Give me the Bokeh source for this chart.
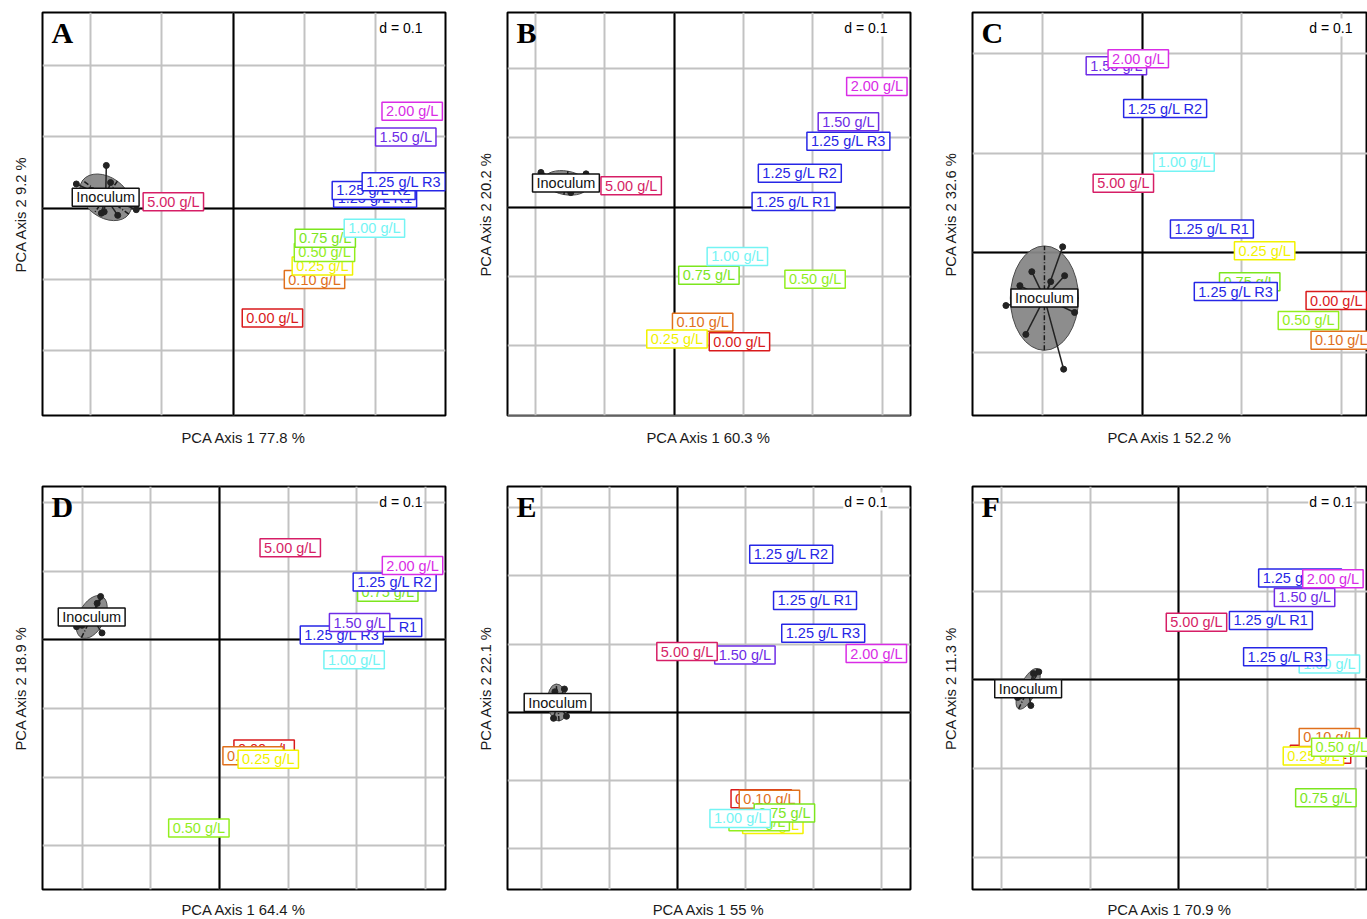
import numpy as np
from bokeh.plotting import figure
from bokeh.layouts import gridplot
from bokeh.models import ColumnDataSource, Grid, FixedTicker, SingleIntervalTicker, Range1d
from bokeh.core.properties import value
from bokeh.embed import file_html
from bokeh.resources import INLINE

# ---------------- data ----------------
labels = ["0.00 g/L", "0.10 g/L", "0.25 g/L", "0.50 g/L", "0.75 g/L", "1.00 g/L",
          "1.25 g/L R1", "1.25 g/L R2", "1.25 g/L R3", "1.50 g/L", "2.00 g/L", "5.00 g/L"]

letters = ["A", "B", "C", "D", "E", "F"]
x_titles = ["PCA Axis 1 77.8 %", "PCA Axis 1 60.3 %", "PCA Axis 1 52.2 %",
            "PCA Axis 1 64.4 %", "PCA Axis 1 55 %", "PCA Axis 1 70.9 %"]
y_titles = ["PCA Axis 2 9.2 %", "PCA Axis 2 20.2 %", "PCA Axis 2 32.6 %",
            "PCA Axis 2 18.9 %", "PCA Axis 2 22.1 %", "PCA Axis 2 11.3 %"]

A_pc1 = [0.055, 0.114, 0.125, 0.128, 0.129, 0.198, 0.199, 0.197, 0.239, 0.242, 0.251, -0.084]
A_pc2 = [-0.154, -0.100, -0.081, -0.062, -0.042, -0.028, 0.014, 0.025, 0.037, 0.100, 0.136, 0.009]
A_inoc_pc1 = [-0.178, -0.220, -0.181, -0.162, -0.185, -0.136, -0.172, -0.200, -0.205, -0.150]
A_inoc_pc2 = [0.060, 0.034, -0.005, -0.010, -0.007, -0.002, 0.036, 0.025, 0.010, 0.012]

B_pc1 = [0.094, 0.041, 0.004, 0.203, 0.050, 0.091, 0.172, 0.181, 0.251, 0.251, 0.292, -0.062]
B_pc2 = [-0.194, -0.166, -0.190, -0.104, -0.098, -0.071, 0.008, 0.049, 0.095, 0.123, 0.174, 0.031]
B_inoc_pc1 = [-0.192, -0.149, -0.127, -0.160, -0.152]
B_inoc_pc2 = [0.050, 0.021, 0.048, 0.030, 0.026]

C_pc1 = [0.195, 0.200, 0.123, 0.167, 0.108, 0.042, 0.070, 0.023, 0.094, -0.026, -0.004, -0.019]
C_pc2 = [-0.048, -0.088, 0.002, -0.068, -0.029, 0.091, 0.024, 0.145, -0.039, 0.188, 0.195, 0.070]
C_inoc_pc1 = [-0.080, -0.111, -0.092, -0.078, -0.123, -0.137, -0.068, -0.117, -0.079]
C_inoc_pc2 = [0.006, -0.019, -0.029, -0.023, -0.033, -0.053, -0.060, -0.082, -0.117]

D_pc1 = [0.065, 0.049, 0.071, -0.030, 0.245, 0.196, 0.234, 0.255, 0.178, 0.204, 0.281, 0.103]
D_pc2 = [-0.159, -0.169, -0.174, -0.274, 0.069, -0.029, 0.018, 0.084, 0.007, 0.025, 0.108, 0.134]
D_inoc_pc1 = [-0.173, -0.208, -0.171, -0.200, -0.178]
D_inoc_pc2 = [0.063, 0.019, 0.010, 0.021, 0.053]

E_pc1 = [0.123, 0.135, 0.140, 0.120, 0.157, 0.092, 0.202, 0.167, 0.214, 0.099, 0.292, 0.014]
E_pc2 = [-0.127, -0.128, -0.165, -0.161, -0.148, -0.156, 0.164, 0.232, 0.116, 0.084, 0.086, 0.089]
E_inoc_pc1 = [-0.166, -0.180, -0.189, -0.182, -0.163]
E_inoc_pc2 = [0.034, 0.030, 0.022, -0.009, -0.006]

F_pc1 = [0.160, 0.170, 0.152, 0.184, 0.166, 0.170, 0.104, 0.137, 0.120, 0.142, 0.174, 0.020]
F_pc2 = [-0.084, -0.065, -0.086, -0.076, -0.133, 0.018, 0.067, 0.115, 0.026, 0.093, 0.114, 0.065]
F_inoc_pc1 = [-0.158, -0.182, -0.167, -0.179, -0.164]
F_inoc_pc2 = [0.009, -0.020, -0.029, -0.018, 0.007]

# ---------------- style ----------------
label_colors = ["#D91A1C", "#E0701C", "#F2F200", "#92EE1E", "#7CE61E", "#74F4F4",
                "#2626E6", "#2626E6", "#2626E6", "#6E2CE6", "#D92CE6", "#D61E66"]
FONT = "Liberation Sans"
GRID_COL = "#c2c2c2"

# per panel view: (x_start, y_end, px per unit, frame width)
views = [(-0.2675, 0.2745, 713, 403), (-0.2402, 0.2805, 694, 403), (-0.1706, 0.2415, 995, 395),
         (-0.2576, 0.2231, 687, 403), (-0.2496, 0.3314, 681, 403), (-0.2328, 0.2182, 886, 395)]


def make_panel(i, pc1, pc2, ipc1, ipc2, row, col):
    x_start, y_end, sc, fw = views[i]
    fh = 403
    x_end = x_start + fw / sc
    y_start = y_end - fh / sc
    p = figure(frame_width=fw, frame_height=fh,
               x_range=Range1d(x_start, x_end), y_range=Range1d(y_start, y_end),
               min_border_left=(42 if col == 0 else 34),
               min_border_right=(28 if fw == 403 else 0),
               min_border_top=(12 if row == 0 else 4),
               min_border_bottom=(67 if row == 0 else 28),
               output_backend="svg", toolbar_location=None, tools="")
    p.outline_line_color = "black"
    p.outline_line_width = 2
    p.background_fill_color = "white"
    p.border_fill_color = "white"

    for ax in (p.xaxis[0], p.yaxis[0]):
        ax.ticker = FixedTicker(ticks=[])
        ax.major_label_standoff = 0
        ax.major_tick_line_color = None
        ax.minor_tick_line_color = None
        ax.major_tick_out = 0
        ax.major_tick_in = 0
        ax.axis_line_color = None
        ax.axis_label_text_font = FONT
        ax.axis_label_text_font_size = "14.8px"
        ax.axis_label_text_font_style = "normal"
        ax.axis_label_text_color = "#1a1a1a"
    p.xaxis.axis_label = x_titles[i]
    p.yaxis.axis_label = y_titles[i]
    p.xaxis.axis_label_standoff = 14 if row == 0 else 12
    p.yaxis.axis_label_standoff = 14

    for g in (p.xgrid[0], p.ygrid[0]):
        g.ticker = SingleIntervalTicker(interval=0.1, num_minor_ticks=0)
        g.grid_line_color = GRID_COL
        g.grid_line_width = 2
    p.add_layout(Grid(dimension=0, ticker=FixedTicker(ticks=[0]), grid_line_color="black", grid_line_width=2))
    p.add_layout(Grid(dimension=1, ticker=FixedTicker(ticks=[0]), grid_line_color="black", grid_line_width=2))

    # inoculum group: ellipse (1.5 sd), ellipse axes, star, points
    px = np.array(ipc1)
    py = np.array(ipc2)
    cx, cy = px.mean(), py.mean()
    cov = np.cov(np.vstack([px, py]), bias=True)
    vals, vecs = np.linalg.eigh(cov)
    a = 1.5 * np.sqrt(max(vals[1], 0))
    b = 1.5 * np.sqrt(max(vals[0], 0))
    v1 = vecs[:, 1]
    v2 = vecs[:, 0]
    ang = float(np.arctan2(v1[1], v1[0]))
    p.ellipse(x=[cx], y=[cy], width=[2 * a], height=[2 * b], angle=[ang],
              fill_color="#878787", fill_alpha=0.95, line_color="#4a4a4a", line_width=1)
    p.segment(x0=[cx - a * v1[0], cx - b * v2[0]], y0=[cy - a * v1[1], cy - b * v2[1]],
              x1=[cx + a * v1[0], cx + b * v2[0]], y1=[cy + a * v1[1], cy + b * v2[1]],
              line_color="#1a1a1a", line_width=1.5, line_dash="5 2 1 2")
    p.segment(x0=[cx] * len(px), y0=[cy] * len(py), x1=px, y1=py,
              line_color="#222222", line_width=1.5)
    p.scatter(px, py, size=6, fill_color="#222222", line_color="#222222")

    box_pad = dict(left=4, right=4, top=1, bottom=1)
    p.text(x=[cx], y=[cy], text=["Inoculum"], text_color="#111111",
           text_font=value(FONT), text_font_size="14.5px",
           text_align="center", text_baseline="middle",
           background_fill_color="white", border_line_color="#111111", border_line_width=1.5,
           padding=box_pad)

    src = ColumnDataSource(dict(x=pc1, y=pc2, text=labels, color=label_colors))
    p.text(x="x", y="y", text="text", source=src, text_color="color",
           text_font=value(FONT), text_font_size="14.5px",
           text_align="center", text_baseline="middle",
           background_fill_color="white", border_line_color="color", border_line_width=1.5,
           padding=box_pad)

    # panel letter and scale box
    p.text(x=[x_start + 9 / sc], y=[y_end - 3 / sc], text=[letters[i]],
           text_font=value("Liberation Serif"), text_font_style="bold", text_font_size="30px",
           text_color="black", text_align="left", text_baseline="top")
    p.text(x=[x_start + 381 / sc], y=[y_end - 6 / sc], text=["d = 0.1"],
           text_font=value(FONT), text_font_size="14px", text_color="black",
           text_align="right", text_baseline="top",
           background_fill_color="white", padding=dict(left=1, right=1, top=1, bottom=1))
    return p


panels = [
    make_panel(0, A_pc1, A_pc2, A_inoc_pc1, A_inoc_pc2, 0, 0),
    make_panel(1, B_pc1, B_pc2, B_inoc_pc1, B_inoc_pc2, 0, 1),
    make_panel(2, C_pc1, C_pc2, C_inoc_pc1, C_inoc_pc2, 0, 2),
    make_panel(3, D_pc1, D_pc2, D_inoc_pc1, D_inoc_pc2, 1, 0),
    make_panel(4, E_pc1, E_pc2, E_inoc_pc1, E_inoc_pc2, 1, 1),
    make_panel(5, F_pc1, F_pc2, F_inoc_pc1, F_inoc_pc2, 1, 2),
]

grid = gridplot([panels[:3], panels[3:]], toolbar_location=None)

with open("out.html", "w") as f:
    f.write(file_html(grid, INLINE))
